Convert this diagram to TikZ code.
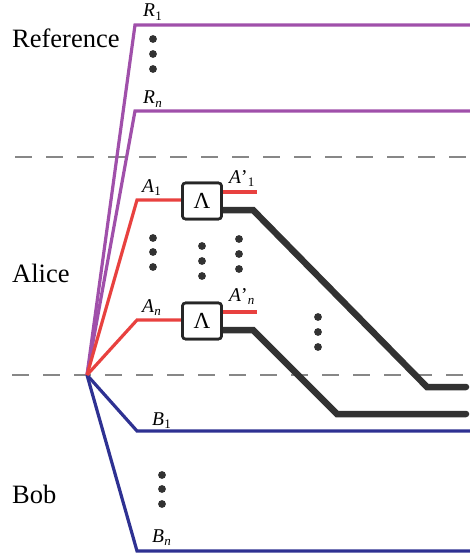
\documentclass[tikz,border=0pt]{standalone}
\usepackage{fontspec}
\setmainfont{Liberation Serif}
\usetikzlibrary{calc}
\definecolor{refc}{RGB}{160,80,170}
\definecolor{alc}{RGB}{232,65,63}
\definecolor{bobc}{RGB}{46,49,146}
\definecolor{dashc}{RGB}{135,135,135}
\definecolor{darkc}{RGB}{50,50,50}
% label: italic letter, optional prime (#3), subscript (#2)
\newcommand{\qlab}[3]{\textit{#1}#3\kern0.3pt\raisebox{-0.16em}{\fontsize{13}{13}\selectfont #2}}
\begin{document}
\begin{tikzpicture}[x=1pt,y=-1pt,
  refline/.style={draw=refc,line width=3.2pt,line join=miter},
  aline/.style={draw=alc,line width=3.2pt},
  bline/.style={draw=bobc,line width=3.2pt},
  sepline/.style={draw=dashc,line width=2.6pt,dash pattern=on 17pt off 14pt},
  outline/.style={draw=darkc,line width=6.5pt,line cap=round},
  chanbox/.style={draw=black!85,line width=2.6pt,fill=white,rounded corners=3pt,minimum width=39pt,minimum height=36pt,inner sep=0pt,font=\fontsize{23}{23}\selectfont},
  party/.style={anchor=base west,inner sep=0pt,font=\fontsize{26.5}{26.5}\selectfont},
  lab/.style={anchor=base west,inner sep=0pt,font=\fontsize{19.5}{19.5}\selectfont},
  dotc/.style={fill=darkc,draw=none}
]
\useasboundingbox (0,0) rectangle (470,559);
% separators
\coordinate (d1l) at (15,157); \coordinate (d1r) at (470,157);
\coordinate (d2l) at (12,375); \coordinate (d2r) at (470,375);
\draw[sepline] (d1l) -- (d1r);
\draw[sepline] (d2l) -- (d2r);
% source
\coordinate (S) at (87,375);
% reference
\coordinate (r1c) at (135,25); \coordinate (r1e) at (470,25);
\coordinate (rnc) at (135,111); \coordinate (rne) at (470,111);
\draw[refline] (S) -- (r1c) -- (r1e);
\draw[refline] (S) -- (rnc) -- (rne);
% Bob
\coordinate (b1c) at (137,431); \coordinate (b1e) at (470,431);
\coordinate (bnc) at (137,551); \coordinate (bne) at (470,551);
\draw[bline] (S) -- (b1c) -- (b1e);
\draw[bline] (S) -- (bnc) -- (bne);
% Alice boxes (placed first to anchor connectors)
\node[chanbox] (L1) at (202,201) {Λ};
\node[chanbox] (Ln) at (202,321) {Λ};
\coordinate (a1c) at (137,200);
\coordinate (anc) at (137,320);
\draw[aline] (S) -- (a1c) -- (a1c -| L1.west);
\draw[aline] (S) -- (anc) -- (anc -| Ln.west);
% outputs
\coordinate (o1r) at (257,192); \coordinate (onr) at (257,312);
\draw[aline] (o1r -| L1.east) -- (o1r);
\draw[aline] (onr -| Ln.east) -- (onr);
\coordinate (k1a) at (253,210); \coordinate (k1b) at (427,387); \coordinate (k1e) at (466,387);
\coordinate (kna) at (253,330); \coordinate (knb) at (337,414); \coordinate (kne) at (466,414);
\draw[outline,line join=miter] (k1a -| L1.east) -- (k1a) -- (k1b) -- (k1e);
\draw[outline,line join=miter] (kna -| Ln.east) -- (kna) -- (knb) -- (kne);
\node[chanbox] at (L1) {Λ};
\node[chanbox] at (Ln) {Λ};
% dots
\foreach \x/\y in {153/39,153/54,153/69,
  153/238,153/252,153/267, 202/246,202/261,202/276, 239/239,239/254,239/269,
  318/317,318/332,318/347, 162/475,162/489,162/504}
  \fill[dotc] (\x,\y) circle (3.9pt);
% party names
\node[party] (tref) at (12,48) {Reference};
\node[party] (tal) at (12,282) {Alice};
\node[party] (tbob) at (12,503) {Bob};
% labels
\node[lab] (lr1) at (143,17) {\qlab{R}{1}{}};
\node[lab] (lrn) at (143,104) {\qlab{R}{\textit{n}}{}};
\node[lab] (la1) at (142,192) {\qlab{A}{1}{}};
\node[lab] (lan) at (142,312) {\qlab{A}{\textit{n}}{}};
\node[lab] (la1p) at (229,183) {\qlab{A}{1}{’}};
\node[lab] (lanp) at (229,301) {\qlab{A}{\textit{n}}{’}};
\node[lab] (lb1) at (152,425) {\qlab{B}{1}{}};
\node[lab] (lbn) at (152,542) {\qlab{B}{\textit{n}}{}};
\end{tikzpicture}
\end{document}
